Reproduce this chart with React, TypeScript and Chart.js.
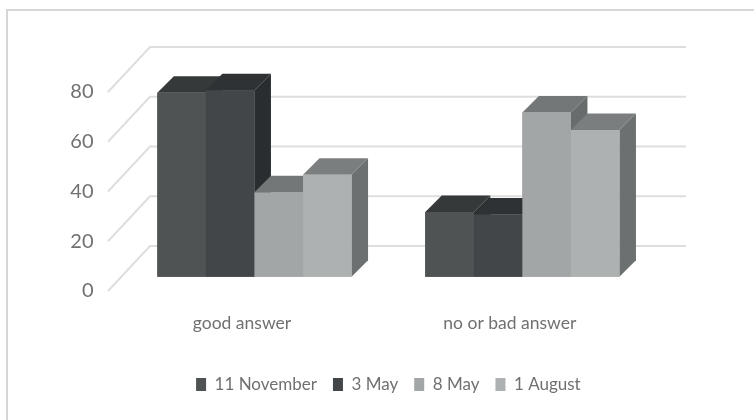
import React, { useEffect, useRef } from "react";
import { Chart, registerables } from "chart.js";

Chart.register(...registerables);

const categories = ["good answer", "no or bad answer"];
const seriesNames = ["11 November", "3 May", "8 May", "1 August"];
const nov11 = [74, 26];
const may3 = [75, 25];
const may8 = [34, 66];
const aug1 = [41, 59];
const yTicks = [0, 20, 40, 60, 80];

const frontColors = ["#4f5354", "#424648", "#a3a6a6", "#aeb1b1"];
const topColors = ["#35393a", "#2f3234", "#747778", "#7b7e7e"];
const sideColors = ["#2c3031", "#2a2d2f", "#686c6c", "#6d7071"];
const gridColor = "#dedede";
const textColor = "#707070";
const fontFamily = 'Lato, "Open Sans", sans-serif';
const DEPTH = 16.5;
const WALL_LEFT = 150;
const WALL_RIGHT = 686;
const FLOOR_LEFT = 108;

const depth3d = {
  id: "depth3d",
  beforeDatasetsDraw(chart: any) {
    const { ctx, scales } = chart;
    ctx.save();
    ctx.strokeStyle = gridColor;
    ctx.lineWidth = 2;
    yTicks.forEach((t) => {
      const back = scales.yBack.getPixelForValue(t);
      const front = scales.y.getPixelForValue(t);
      ctx.beginPath();
      ctx.moveTo(FLOOR_LEFT, front);
      ctx.lineTo(WALL_LEFT, back);
      ctx.lineTo(WALL_RIGHT, back);
      ctx.stroke();
    });
    ctx.restore();
  },
  afterDatasetsDraw(chart: any) {
    const { ctx } = chart;
    ctx.save();
    chart.data.datasets.forEach((_: any, i: number) => {
      chart.getDatasetMeta(i).data.forEach((bar: any) => {
        const l = bar.x - bar.width / 2;
        const r = bar.x + bar.width / 2;
        const t = bar.y;
        const b = bar.base;
        ctx.fillStyle = sideColors[i];
        ctx.beginPath();
        ctx.moveTo(r, t);
        ctx.lineTo(r + DEPTH, t - DEPTH);
        ctx.lineTo(r + DEPTH, b - DEPTH);
        ctx.lineTo(r, b);
        ctx.closePath();
        ctx.fill();
        ctx.fillStyle = topColors[i];
        ctx.beginPath();
        ctx.moveTo(l, t);
        ctx.lineTo(l + DEPTH, t - DEPTH);
        ctx.lineTo(r + DEPTH, t - DEPTH);
        ctx.lineTo(r, t);
        ctx.closePath();
        ctx.fill();
        bar.draw(ctx);
      });
    });
    ctx.restore();
  },
};

export default function App() {
  const ref = useRef<HTMLCanvasElement>(null);
  useEffect(() => {
    const values = [nov11, may3, may8, aug1];
    const chart = new Chart(ref.current as HTMLCanvasElement, {
      type: "bar",
      data: {
        labels: categories,
        datasets: seriesNames.map((name, i) => ({
          label: name,
          data: values[i],
          backgroundColor: frontColors[i],
          yAxisID: "yBars",
          barPercentage: 1,
          categoryPercentage: 0.725,
        })),
      },
      plugins: [depth3d],
      options: {
        animation: false,
        responsive: false,
        layout: { padding: { top: 47, right: 97.7, left: 0, bottom: 17 } },
        plugins: {
          tooltip: { enabled: false },
          legend: {
            position: "bottom",
            fullSize: false,
            labels: {
              boxWidth: 10,
              boxHeight: 13,
              padding: 16,
              color: textColor,
              font: { family: fontFamily, size: 17 },
            },
          },
        },
        scales: {
          x: {
            grid: { display: false, drawTicks: false },
            border: { display: false },
            ticks: {
              padding: 22,
              labelOffset: -12.5,
              color: textColor,
              maxRotation: 0,
              font: { family: fontFamily, size: 17.5 },
            },
            afterFit: (s: any) => {
              s.height = 69;
            },
          },
          y: {
            min: 0,
            max: 98.1,
            grid: { display: false, drawTicks: false },
            border: { display: false },
            ticks: {
              stepSize: 20,
              includeBounds: false,
              padding: 27,
              color: textColor,
              font: { family: fontFamily, size: 20 },
            },
            afterFit: (s: any) => {
              s.width = 120.5;
            },
          },
          yBars: { display: false, min: -5.75, max: 92.35 },
          yBack: { display: false, min: -18.1, max: 80 },
        },
      },
    });
    return () => chart.destroy();
  }, []);
  return (
    <div style={{ position: "fixed", left: 0, top: 0, width: 754, height: 420, background: "#fff", overflow: "hidden" }}>
      <canvas ref={ref} width={754} height={420} style={{ display: "block", filter: "blur(0.6px)" }} />
      <div style={{ position: "absolute", left: 6, top: 9, right: 0, bottom: 0, borderLeft: "2px solid #d6d6d6", borderTop: "2px solid #d6d6d6", boxSizing: "border-box", filter: "blur(0.6px)" }} />
    </div>
  );
}
